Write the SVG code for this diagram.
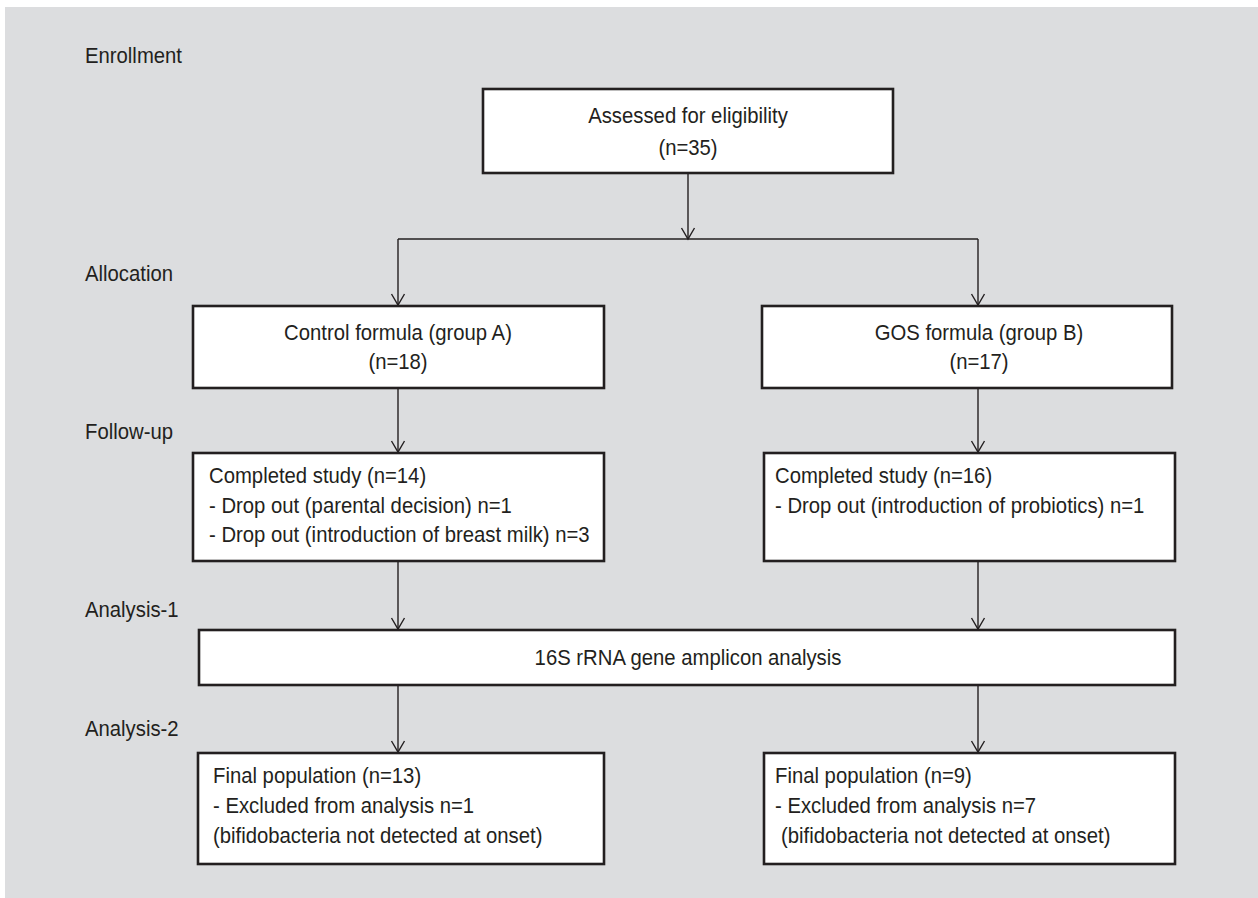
<svg xmlns="http://www.w3.org/2000/svg" width="1258" height="898" viewBox="0 0 1258 898">
<style>
  .bg { fill: #dcdddf; }
  .box { fill: #ffffff; stroke: #231f20; stroke-width: 2.6; }
  .t { font-family: "Liberation Sans", Arial, sans-serif; font-size: 22px; fill: #231f20; white-space: pre; }
  .c { text-anchor: middle; }
  .conn { fill: none; stroke: #231f20; stroke-width: 1.4; }
</style>
<defs>
  <marker id="arr" markerUnits="userSpaceOnUse" markerWidth="14" markerHeight="16" refX="12" refY="7" orient="auto" viewBox="0 0 14 14">
    <path d="M1,0.5 L12,7 L1,13.5" fill="none" stroke="#231f20" stroke-width="1.4"/>
  </marker>
</defs>
<rect class="bg" x="5" y="7" width="1253" height="891"/>

<g id="labels">
  <text class="t" transform="translate(85,63) scale(0.923,1)">Enrollment</text>
  <text class="t" transform="translate(85,281) scale(0.923,1)">Allocation</text>
  <text class="t" transform="translate(85,439) scale(0.923,1)">Follow-up</text>
  <text class="t" transform="translate(85,617) scale(0.923,1)">Analysis-1</text>
  <text class="t" transform="translate(85,736) scale(0.923,1)">Analysis-2</text>
</g>

<g id="connectors">
  <line class="conn" x1="688" y1="173" x2="688" y2="239" marker-end="url(#arr)"/>
  <line class="conn" x1="398" y1="239" x2="978" y2="239"/>
  <line class="conn" x1="398" y1="239" x2="398" y2="305" marker-end="url(#arr)"/>
  <line class="conn" x1="978" y1="239" x2="978" y2="305" marker-end="url(#arr)"/>
  <line class="conn" x1="398" y1="388" x2="398" y2="452" marker-end="url(#arr)"/>
  <line class="conn" x1="978" y1="388" x2="978" y2="452" marker-end="url(#arr)"/>
  <line class="conn" x1="398" y1="561" x2="398" y2="629" marker-end="url(#arr)"/>
  <line class="conn" x1="978" y1="561" x2="978" y2="629" marker-end="url(#arr)"/>
  <line class="conn" x1="398" y1="685" x2="398" y2="752" marker-end="url(#arr)"/>
  <line class="conn" x1="978" y1="685" x2="978" y2="752" marker-end="url(#arr)"/>
</g>

<g id="assessed">
  <rect class="box" x="483" y="89" width="410" height="84"/>
  <text class="t c" transform="translate(688,123) scale(0.923,1)">Assessed for eligibility</text>
  <text class="t c" transform="translate(688,155) scale(0.923,1)">(n=35)</text>
</g>

<g id="control">
  <rect class="box" x="193" y="306" width="411" height="82"/>
  <text class="t c" transform="translate(398,340) scale(0.923,1)">Control formula (group A)</text>
  <text class="t c" transform="translate(398,369) scale(0.923,1)">(n=18)</text>
</g>

<g id="gos">
  <rect class="box" x="762" y="306" width="410" height="82"/>
  <text class="t c" transform="translate(979,340) scale(0.923,1)">GOS formula (group B)</text>
  <text class="t c" transform="translate(979,369) scale(0.923,1)">(n=17)</text>
</g>

<g id="followup-a">
  <rect class="box" x="193" y="453" width="411" height="108"/>
  <text class="t" transform="translate(209,483) scale(0.923,1)">Completed study (n=14)</text>
  <text class="t" transform="translate(209,513) scale(0.923,1)">- Drop out (parental decision) n=1</text>
  <text class="t" transform="translate(209,542) scale(0.923,1)">- Drop out (introduction of breast milk) n=3</text>
</g>

<g id="followup-b">
  <rect class="box" x="764" y="453" width="411" height="108"/>
  <text class="t" transform="translate(775,483) scale(0.923,1)">Completed study (n=16)</text>
  <text class="t" transform="translate(775,513) scale(0.923,1)">- Drop out (introduction of probiotics) n=1</text>
</g>

<g id="analysis1">
  <rect class="box" x="199" y="630" width="976" height="55"/>
  <text class="t c" transform="translate(688,665) scale(0.923,1)">16S rRNA gene amplicon analysis</text>
</g>

<g id="final-a">
  <rect class="box" x="198" y="753" width="406" height="111"/>
  <text class="t" transform="translate(213,783) scale(0.923,1)">Final population (n=13)</text>
  <text class="t" transform="translate(213,813) scale(0.923,1)">- Excluded from analysis n=1</text>
  <text class="t" transform="translate(213,843) scale(0.923,1)">(bifidobacteria not detected at onset)</text>
</g>

<g id="final-b">
  <rect class="box" x="764" y="753" width="411" height="111"/>
  <text class="t" transform="translate(775,783) scale(0.923,1)">Final population (n=9)</text>
  <text class="t" transform="translate(775,813) scale(0.923,1)">- Excluded from analysis n=7</text>
  <text class="t" transform="translate(781,843) scale(0.923,1)">(bifidobacteria not detected at onset)</text>
</g>
</svg>
